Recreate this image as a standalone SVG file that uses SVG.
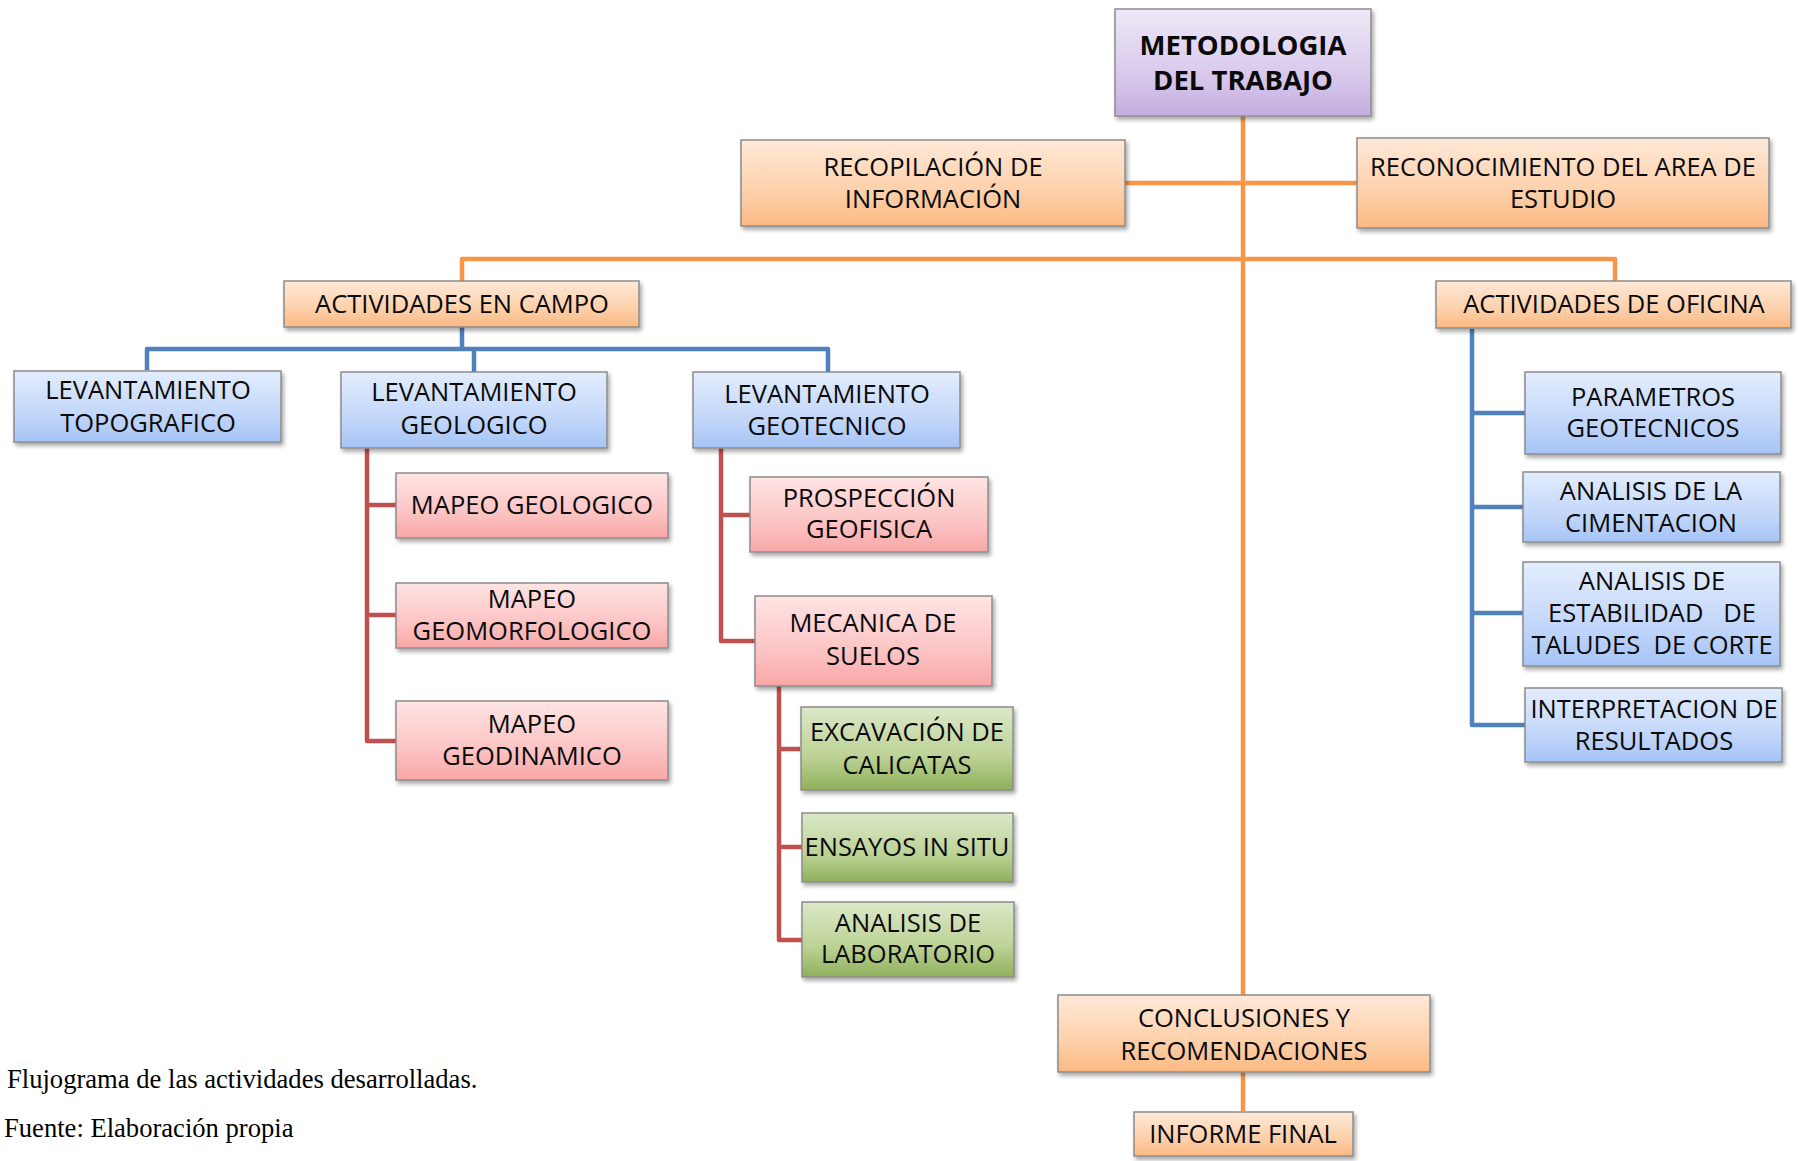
<svg xmlns="http://www.w3.org/2000/svg" width="1798" height="1161" viewBox="0 0 1798 1161">
<defs>
<linearGradient id="gO" x1="0" y1="0" x2="0" y2="1"><stop offset="0" stop-color="#FFE9D8"/><stop offset="0.6" stop-color="#FDD0AA"/><stop offset="1" stop-color="#FBB982"/></linearGradient>
<linearGradient id="gB" x1="0" y1="0" x2="0" y2="1"><stop offset="0" stop-color="#E3EDFD"/><stop offset="0.6" stop-color="#C3D7FA"/><stop offset="1" stop-color="#A6C4F6"/></linearGradient>
<linearGradient id="gR" x1="0" y1="0" x2="0" y2="1"><stop offset="0" stop-color="#FFE4E4"/><stop offset="0.6" stop-color="#FCC4C4"/><stop offset="1" stop-color="#F9A7A7"/></linearGradient>
<linearGradient id="gG" x1="0" y1="0" x2="0" y2="1"><stop offset="0" stop-color="#DCE8C9"/><stop offset="0.6" stop-color="#BCD295"/><stop offset="1" stop-color="#8FB05B"/></linearGradient>
<linearGradient id="gP" x1="0" y1="0" x2="0" y2="1"><stop offset="0" stop-color="#EEE8F7"/><stop offset="0.6" stop-color="#D9CAEC"/><stop offset="1" stop-color="#C4ADE0"/></linearGradient>
<filter id="sh" x="-10%" y="-20%" width="130%" height="160%"><feDropShadow dx="2" dy="3" stdDeviation="2.2" flood-color="#000" flood-opacity="0.35"/></filter>
</defs>
<style>
.b{stroke:#8C8C8C;stroke-width:1.5;filter:url(#sh)}
.o{fill:url(#gO)}.bl{fill:url(#gB)}.r{fill:url(#gR)}.g{fill:url(#gG)}.p{fill:url(#gP)}
text{font-family:"Open Sans","Noto Sans","Liberation Sans",sans-serif;font-size:25.5px;fill:#0A0A0A;text-anchor:middle}
.bold{font-weight:bold;font-size:27.5px}
.ser{font-family:"Liberation Serif","Times New Roman",serif;font-size:26.6px;text-anchor:start;fill:#000}
.co{fill:none;stroke:#F79646;stroke-width:4.5;stroke-linejoin:round}
.cb{fill:none;stroke:#4F81BD;stroke-width:4.5;stroke-linejoin:round}
.cr{fill:none;stroke:#C0504D;stroke-width:4.5;stroke-linejoin:round}
</style>
<g id="connectors">
<path class="co" d="M1243 116V995"/>
<path class="co" d="M1125 183H1357"/>
<path class="co" d="M462 281V259H1615V281"/>
<path class="co" d="M1243 1072V1111"/>
<path class="cb" d="M462 327V349"/>
<path class="cb" d="M147 370V349H828V372"/>
<path class="cb" d="M474 349V372"/>
<path class="cb" d="M1472 329V725H1525"/>
<path class="cb" d="M1472 413H1525M1472 507H1523M1472 613H1523"/>
<path class="cr" d="M367 448V741H396"/>
<path class="cr" d="M367 505H396M367 615H396"/>
<path class="cr" d="M721 448V641H755"/>
<path class="cr" d="M721 515H750"/>
<path class="cr" d="M779 686V940H802"/>
<path class="cr" d="M779 749H800M779 847H802"/>
</g>
<g id="n-metodologia"><rect class="b p" x="1115" y="9" width="256" height="107"/><text class="bold" x="1243" y="55">METODOLOGIA</text><text class="bold" x="1243" y="90">DEL TRABAJO</text></g>
<g id="n-recopilacion"><rect class="b o" x="741" y="140" width="384" height="86"/><text x="933" y="176">RECOPILACIÓN DE</text><text x="933" y="208">INFORMACIÓN</text></g>
<g id="n-reconocimiento"><rect class="b o" x="1357" y="138" width="412" height="90"/><text x="1563" y="176">RECONOCIMIENTO DEL AREA DE</text><text x="1563" y="208">ESTUDIO</text></g>
<g id="n-campo"><rect class="b o" x="284" y="281" width="355" height="46"/><text x="462" y="313">ACTIVIDADES EN CAMPO</text></g>
<g id="n-oficina"><rect class="b o" x="1436" y="281" width="355" height="47"/><text x="1614" y="313">ACTIVIDADES DE OFICINA</text></g>
<g id="n-topo"><rect class="b bl" x="14" y="371" width="267" height="71"/><text x="148" y="399">LEVANTAMIENTO</text><text x="148" y="432">TOPOGRAFICO</text></g>
<g id="n-geologico"><rect class="b bl" x="341" y="372" width="266" height="76"/><text x="474" y="401">LEVANTAMIENTO</text><text x="474" y="434">GEOLOGICO</text></g>
<g id="n-geotecnico"><rect class="b bl" x="693" y="372" width="267" height="76"/><text x="827" y="403">LEVANTAMIENTO</text><text x="827" y="435">GEOTECNICO</text></g>
<g id="n-mapeo-geologico"><rect class="b r" x="396" y="473" width="272" height="65"/><text x="532" y="514">MAPEO GEOLOGICO</text></g>
<g id="n-mapeo-geomorfologico"><rect class="b r" x="396" y="583" width="272" height="65"/><text x="532" y="608">MAPEO</text><text x="532" y="640">GEOMORFOLOGICO</text></g>
<g id="n-mapeo-geodinamico"><rect class="b r" x="396" y="701" width="272" height="79"/><text x="532" y="733">MAPEO</text><text x="532" y="765">GEODINAMICO</text></g>
<g id="n-prospeccion"><rect class="b r" x="750" y="477" width="238" height="75"/><text x="869" y="507">PROSPECCIÓN</text><text x="869" y="538">GEOFISICA</text></g>
<g id="n-mecanica"><rect class="b r" x="755" y="596" width="237" height="90"/><text x="873" y="632">MECANICA DE</text><text x="873" y="665">SUELOS</text></g>
<g id="n-excavacion"><rect class="b g" x="801" y="707" width="212" height="83"/><text x="907" y="741">EXCAVACIÓN DE</text><text x="907" y="774">CALICATAS</text></g>
<g id="n-ensayos"><rect class="b g" x="802" y="813" width="211" height="69"/><text x="907" y="856">ENSAYOS IN SITU</text></g>
<g id="n-laboratorio"><rect class="b g" x="802" y="902" width="212" height="75"/><text x="908" y="932">ANALISIS DE</text><text x="908" y="963">LABORATORIO</text></g>
<g id="n-parametros"><rect class="b bl" x="1525" y="372" width="256" height="82"/><text x="1653" y="406">PARAMETROS</text><text x="1653" y="437">GEOTECNICOS</text></g>
<g id="n-cimentacion"><rect class="b bl" x="1523" y="472" width="257" height="70"/><text x="1651" y="500">ANALISIS DE LA</text><text x="1651" y="532">CIMENTACION</text></g>
<g id="n-estabilidad"><rect class="b bl" x="1523" y="562" width="257" height="104"/><text x="1652" y="590">ANALISIS DE</text><text x="1652" y="622" xml:space="preserve">ESTABILIDAD   DE</text><text x="1652" y="654" xml:space="preserve">TALUDES  DE CORTE</text></g>
<g id="n-interpretacion"><rect class="b bl" x="1525" y="688" width="257" height="74"/><text x="1654" y="718">INTERPRETACION DE</text><text x="1654" y="750">RESULTADOS</text></g>
<g id="n-conclusiones"><rect class="b o" x="1058" y="995" width="372" height="77"/><text x="1244" y="1027">CONCLUSIONES Y</text><text x="1244" y="1060">RECOMENDACIONES</text></g>
<g id="n-informe"><rect class="b o" x="1134" y="1112" width="219" height="44"/><text x="1243" y="1143">INFORME FINAL</text></g>
<text class="ser" x="7" y="1088">Flujograma de las actividades desarrolladas.</text>
<text class="ser" x="4" y="1137">Fuente: Elaboración propia</text>
</svg>
